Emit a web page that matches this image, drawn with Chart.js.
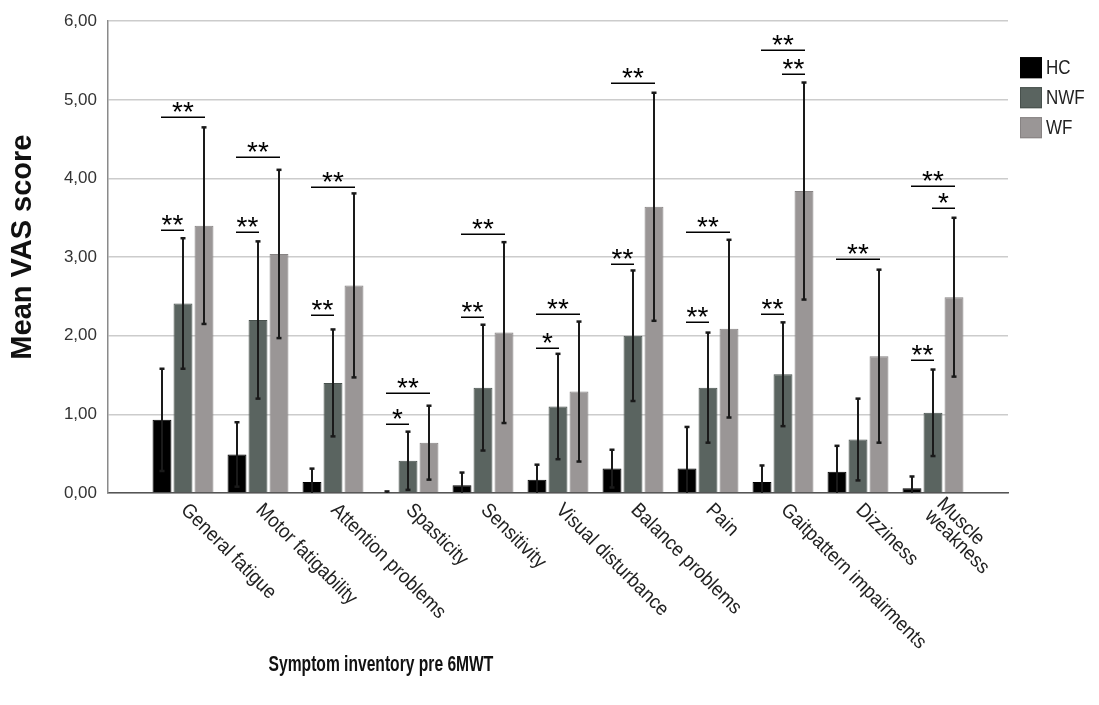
<!DOCTYPE html>
<html><head><meta charset="utf-8">
<script src="https://cdn.jsdelivr.net/npm/chart.js@4.4.1/dist/chart.umd.min.js"></script>
<style>html,body{margin:0;padding:0;background:#fff;}#wrap{width:1099px;height:705px;}</style>
</head><body><div id="wrap"><canvas id="c" width="1099" height="705"></canvas></div>
<script>
// ---- data ----
const categories = ['General fatigue','Motor fatigability','Attention problems','Spasticity','Sensitivity',
  'Visual disturbance','Balance problems','Pain','Gaitpattern impairments','Dizziness',['Muscle','weakness']];
const seriesNames = ['HC','NWF','WF'];
const hcMeans  = [0.93, 0.49, 0.14, 0.01, 0.10, 0.17, 0.31, 0.31, 0.14, 0.27, 0.06];
const hcErr    = [0.65, 0.41, 0.17, 0.01, 0.16, 0.19, 0.24, 0.53, 0.21, 0.33, 0.15];
const nwfMeans = [2.41, 2.20, 1.40, 0.41, 1.34, 1.10, 2.00, 1.34, 1.51, 0.68, 1.02];
const nwfErr   = [0.83, 1.00, 0.68, 0.37, 0.80, 0.67, 0.83, 0.70, 0.66, 0.52, 0.55];
const wfMeans  = [3.40, 3.04, 2.64, 0.64, 2.04, 1.29, 3.64, 2.09, 3.84, 1.74, 2.49];
const wfErr    = [1.25, 1.07, 1.17, 0.47, 1.15, 0.89, 1.45, 1.13, 1.38, 1.10, 1.01];
const yTickLabels = ['0,00','1,00','2,00','3,00','4,00','5,00','6,00'];
// [category index, from series, to series, height (VAS), marker]
const sigBrackets = [
  [0,0,1,3.34,'**'],[0,0,2,4.78,'**'],
  [1,0,1,3.32,'**'],[1,0,2,4.27,'**'],
  [2,0,1,2.26,'**'],[2,0,2,3.89,'**'],
  [3,0,1,0.88,'*'],[3,0,2,1.27,'**'],
  [4,0,1,2.24,'**'],[4,0,2,3.30,'**'],
  [5,0,1,1.85,'*'],[5,0,2,2.28,'**'],
  [6,0,1,2.91,'**'],[6,0,2,5.22,'**'],
  [7,0,1,2.17,'**'],[7,0,2,3.32,'**'],
  [8,0,1,2.28,'**'],[8,0,2,5.64,'**'],[8,1,2,5.33,'**'],
  [9,0,2,2.97,'**'],
  [10,0,1,1.69,'**'],[10,0,2,3.91,'**'],[10,1,2,3.63,'*']
];
const xTitle = 'Symptom inventory pre 6MWT';
const yTitle = 'Mean VAS score';

// ---- styling ----
const fills   = ['#000000','#5a6460','#9a9696'];
const borders = ['#000000','#48514d','#878383'];
const SANS = "'Liberation Sans',Arial,sans-serif";

const pad = a => [null, ...a, null];
const labels = ['', ...categories, ''];
const means = [hcMeans, nwfMeans, wfMeans];
const errs = [hcErr, nwfErr, wfErr];

const datasets = seriesNames.map((n, i) => ({
  label: n,
  data: pad(means[i]),
  errors: pad(errs[i]),
  backgroundColor: fills[i],
  borderColor: borders[i],
  borderWidth: 1,
  categoryPercentage: 0.84,
  barPercentage: 0.9
}));

const overlay = {
  id: 'overlay',
  afterDatasetsDraw(chart) {
    const {ctx, scales: {y}} = chart;
    ctx.save();
    // error bars
    ctx.strokeStyle = '#1a1a1a';
    chart.data.datasets.forEach((ds, di) => {
      const meta = chart.getDatasetMeta(di);
      meta.data.forEach((bar, i) => {
        const v = ds.data[i], e = ds.errors[i];
        if (v == null || e == null) return;
        const top = y.getPixelForValue(v + e);
        const lowV = v - e;
        const bot = y.getPixelForValue(Math.max(0, lowV));
        ctx.lineWidth = 2;
        ctx.beginPath(); ctx.moveTo(bar.x, top); ctx.lineTo(bar.x, bot); ctx.stroke();
        ctx.lineWidth = 2.5;
        ctx.beginPath(); ctx.moveTo(bar.x - 2.5, top); ctx.lineTo(bar.x + 2.5, top); ctx.stroke();
        if (lowV > 0) {
          ctx.beginPath(); ctx.moveTo(bar.x - 2.5, bot); ctx.lineTo(bar.x + 2.5, bot); ctx.stroke();
        }
      });
    });
    // significance brackets
    ctx.strokeStyle = '#000';
    ctx.fillStyle = '#000';
    ctx.lineWidth = 1.5;
    ctx.font = '28px ' + SANS;
    ctx.textAlign = 'center';
    ctx.textBaseline = 'alphabetic';
    sigBrackets.forEach(([cat, a, b, val, txt]) => {
      const xa = chart.getDatasetMeta(a).data[cat + 1].x - 1;
      const xb = chart.getDatasetMeta(b).data[cat + 1].x + 1;
      const ly = Math.round(y.getPixelForValue(val)) + 0.25;
      ctx.beginPath(); ctx.moveTo(xa, ly); ctx.lineTo(xb, ly); ctx.stroke();
      ctx.fillText(txt, (xa + xb) / 2, ly + 4);
    });
    ctx.restore();
  },
  afterDraw(chart) {
    const {ctx, chartArea, scales: {x}} = chart;
    ctx.save();
    // rotated category labels (condensed)
    ctx.fillStyle = '#222';
    ctx.font = '20px ' + SANS;
    ctx.textAlign = 'left';
    ctx.textBaseline = 'middle';
    const lh = 17;
    categories.forEach((c, i) => {
      const lines = Array.isArray(c) ? c : [c];
      const px = x.getPixelForValue(i + 1);
      ctx.save();
      ctx.translate(px + 1, chartArea.bottom + 14);
      ctx.rotate(Math.PI / 4);
      ctx.scale(0.92, 1);
      lines.forEach((ln, k) => ctx.fillText(ln, 0, (k - (lines.length - 1) / 2) * lh));
      ctx.restore();
    });
    // x title (condensed)
    ctx.fillStyle = '#111';
    ctx.textAlign = 'center';
    ctx.textBaseline = 'middle';
    ctx.save();
    ctx.translate(chartArea.left + 273, chartArea.bottom + 172);
    ctx.scale(0.71, 1);
    ctx.font = 'bold 22px ' + SANS;
    ctx.fillText(xTitle, 0, 0);
    ctx.restore();
    // y title
    ctx.save();
    ctx.translate(23, (chartArea.top + chartArea.bottom) / 2 - 10);
    ctx.rotate(-Math.PI / 2);
    ctx.font = 'bold 29px ' + SANS;
    ctx.fillText(yTitle, 0, 0);
    ctx.restore();
    // legend
    ctx.textAlign = 'left';
    ctx.textBaseline = 'middle';
    chart.data.datasets.forEach((ds, i) => {
      const bx = chartArea.right + 12, by = chartArea.top + 36 + i * 30;
      ctx.fillStyle = ds.backgroundColor;
      ctx.fillRect(bx, by, 22, 21);
      ctx.strokeStyle = ds.borderColor; ctx.lineWidth = 1;
      ctx.strokeRect(bx + 0.5, by + 0.5, 21, 20);
      ctx.fillStyle = '#222';
      ctx.save();
      ctx.translate(bx + 26, by + 11);
      ctx.scale(0.85, 1);
      ctx.font = '20px ' + SANS;
      ctx.fillText(ds.label, 0, 0);
      ctx.restore();
    });
    ctx.restore();
  }
};

new Chart(document.getElementById('c'), {
  type: 'bar',
  data: { labels, datasets },
  plugins: [overlay],
  options: {
    responsive: false,
    devicePixelRatio: 1,
    animation: false,
    layout: { padding: { top: 20, right: 91, bottom: 0, left: 0 } },
    plugins: { legend: { display: false }, tooltip: { enabled: false }, title: { display: false } },
    scales: {
      x: {
        type: 'category',
        offset: false,
        grid: { display: false },
        ticks: { display: false },
        border: { display: true, color: '#555', width: 1.5 },
        afterFit: s => { s.height = 212; }
      },
      y: {
        min: 0, max: 6,
        ticks: {
          stepSize: 1,
          padding: 11,
          color: '#333',
          font: { family: SANS, size: 17 },
          callback: v => yTickLabels[Math.round(v)]
        },
        grid: { color: '#cccccc', lineWidth: 1.5, drawTicks: false },
        border: { display: true, color: '#8a8a8a', width: 1.5 },
        afterFit: s => { s.width = 108; }
      }
    }
  }
});
</script></body></html>
